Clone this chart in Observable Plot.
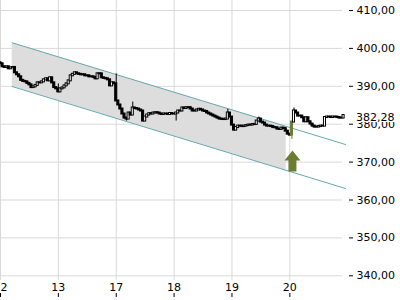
<!DOCTYPE html>
<html><head><meta charset="utf-8">
<script src="https://cdn.jsdelivr.net/npm/d3@7"></script>
<script src="https://cdn.jsdelivr.net/npm/@observablehq/plot@0.6"></script>
<style>html,body{margin:0;padding:0;background:#fff;} svg{display:block;}</style>
</head><body><div id="chart"></div>
<script>
const days = ["12", "13", "17", "18", "19", "20"];
const slotsPerDay = 28;
const firstOpen = 396.2;
const close12 = [395.95,395.15,394.97,395.15,394.62,394.88,394.97,393.56,393.03,392.50,391.57,391.30,391.17,390.77,390.38,389.66,389.85,390.24,390.91,390.91,391.17,391.70,391.97,391.44,392.24,390.91,389.66,389.32];
const close13 = [388.52,389.32,389.58,390.11,390.64,391.44,392.76,393.16,393.56,393.29,393.16,393.03,393.03,392.76,392.76,392.50,392.50,392.37,391.97,393.29,393.29,392.24,392.10,391.97,391.70,390.11,390.91,390.64];
const close17 = [386.13,385.07,384.01,382.69,381.62,381.36,382.95,382.42,384.28,384.14,384.01,383.75,383.48,380.83,381.89,382.42,382.77,382.69,382.95,383.03,382.95,382.69,382.56,382.69,382.69,382.56,382.82,382.69];
const close18 = [382.69,382.95,383.48,383.48,384.28,384.14,384.36,384.36,384.01,383.48,383.48,383.75,383.93,383.75,383.48,383.35,382.95,382.69,382.42,382.15,381.89,381.62,381.36,381.28,381.23,381.36,382.95,381.89];
const close19 = [379.77,378.44,379.11,379.50,379.50,379.37,379.50,379.64,379.77,379.77,379.90,379.95,380.83,381.36,380.56,380.30,379.77,379.50,379.50,379.37,379.11,379.05,378.71,378.63,378.97,378.84,378.18,377.38];
const close20 = [377.12,380.56,383.48,382.95,382.15,382.15,381.70,380.64,381.70,380.64,380.03,379.50,379.24,379.24,379.37,379.50,379.50,381.76,381.89,381.89,381.76,381.89,381.89,381.76,381.62,381.62,382.28];
const wickDay  = [1, 2, 2, 2, 3, 3, 4, 5, 5];
const wickSlot = [0, 0, 5, 8, 1, 26, 13, 1, 2];
const wickHigh = [390.64, 393.29, null, 385.85, null, 383.93, 381.89, 380.64, 384.28];
const wickLow  = [null, null, 380.83, null, 380.83, null, null, 375.98, null];
const signalDay = 5, signalSlot = 1;
const yTicks = [340, 350, 360, 370, 380, 390, 400, 410];
const channelT = [0.202, 5.962];
const channelUpper = [401.48, 374.64];
const channelLower = [389.95, 363.03];
const fillT = [0.202, 4.937];
const fillUpper = [401.48, 379.39];
const fillLower = [389.95, 367.81];
const arrowT = [5.045];
const arrowPrice = [370.29];
const lastPrice = 382.28;

const closesByDay = [close12, close13, close17, close18, close19, close20];
const candles = [];
let prev = firstOpen;
closesByDay.forEach((arr, d) => arr.forEach((c, k) => {
  const o = prev;
  candles.push({t: d + k / slotsPerDay, day: d, slot: k, open: o, close: c,
    high: Math.max(o, c), low: Math.min(o, c), signal: d === signalDay && k === signalSlot});
  prev = c;
}));
wickDay.forEach((d, i) => {
  const c = candles.find(e => e.day === d && e.slot === wickSlot[i]);
  if (wickHigh[i] != null) c.high = wickHigh[i];
  if (wickLow[i] != null) c.low = wickLow[i];
});
const channelData = channelT.map((t, i) => ({t, upper: channelUpper[i], lower: channelLower[i]}));
const fillData = fillT.map((t, i) => ({t, upper: fillUpper[i], lower: fillLower[i]}));
const arrowData = arrowT.map((t, i) => ({t, price: arrowPrice[i]}));

const fmt = v => v.toFixed(2).replace(".", ",");
const olive = "#6b7d33";
const teal = "#66a9ae";
const grid = "#d9d9d9";
const hw = 0.018;
const dayTicks = days.map((_, i) => i);
const arrowSymbol = {
  draw(ctx) {
    ctx.moveTo(0, -10.5); ctx.lineTo(8, -0.5); ctx.lineTo(4, -0.5); ctx.lineTo(4, 10.5);
    ctx.lineTo(-4, 10.5); ctx.lineTo(-4, -0.5); ctx.lineTo(-8, -0.5); ctx.closePath();
  }
};

const chart = Plot.plot({
  width: 400, height: 300,
  marginTop: 0, marginBottom: 20, marginLeft: 0, marginRight: 58,
  style: {fontFamily: "DejaVu Sans", fontSize: "11px", color: "#000", background: "#fff"},
  x: {domain: [0, 5.91]},
  y: {domain: [338.76, 412.64]},
  color: {type: "identity"},
  marks: [
    Plot.gridX(dayTicks, {stroke: grid, strokeOpacity: 1}),
    Plot.gridY(yTicks, {stroke: grid, strokeOpacity: 1}),
    Plot.areaY(fillData, {x: "t", y1: "lower", y2: "upper", fill: "#dddddd"}),
    Plot.line(channelData, {x: "t", y: "upper", stroke: teal, strokeWidth: 1}),
    Plot.line(channelData, {x: "t", y: "lower", stroke: teal, strokeWidth: 1}),
    Plot.ruleX(candles, {x: "t", y1: "low", y2: "high", stroke: d => d.signal ? olive : "#000", strokeWidth: 1}),
    Plot.rect(candles, {x1: d => d.t - hw, x2: d => d.t + hw, y1: "open", y2: "close",
      insetTop: -0.5, insetBottom: -0.5,
      fill: d => d.signal ? olive : (d.close > d.open ? "#fff" : "#000"),
      stroke: d => d.signal ? olive : "#000", strokeWidth: 1}),
    Plot.dot(arrowData, {x: "t", y: "price", symbol: arrowSymbol, r: 8, fill: olive, stroke: "none"}),
    Plot.axisX(dayTicks, {anchor: "bottom", tickSize: 0, tickPadding: 3, tickFormat: i => days[i], label: null, fontSize: 11}),
    Plot.axisX(dayTicks, {anchor: "bottom", tickSize: 4, dy: 13, tickFormat: () => "", label: null}),
    Plot.axisY(yTicks, {anchor: "right", tickSize: 4, dx: 6, tickPadding: 4, tickFormat: fmt, label: null, fontSize: 11})
  ]
});
document.getElementById("chart").appendChild(chart);

const ys = chart.scale("y"), xs = chart.scale("x");
const py = ys.apply(lastPrice);
const x0 = xs.range[1] + 13;
const svg = d3.select(chart);
svg.append("rect").attr("x", x0).attr("y", py - 6).attr("width", 44).attr("height", 13).attr("fill", "#fff");
svg.append("text").attr("x", x0 + 1).attr("y", py + 2).attr("dy", "0.32em").attr("text-anchor", "start")
  .attr("font-family", "DejaVu Sans").attr("font-size", 11).attr("fill", "#000").text(fmt(lastPrice));
</script>
</body></html>
